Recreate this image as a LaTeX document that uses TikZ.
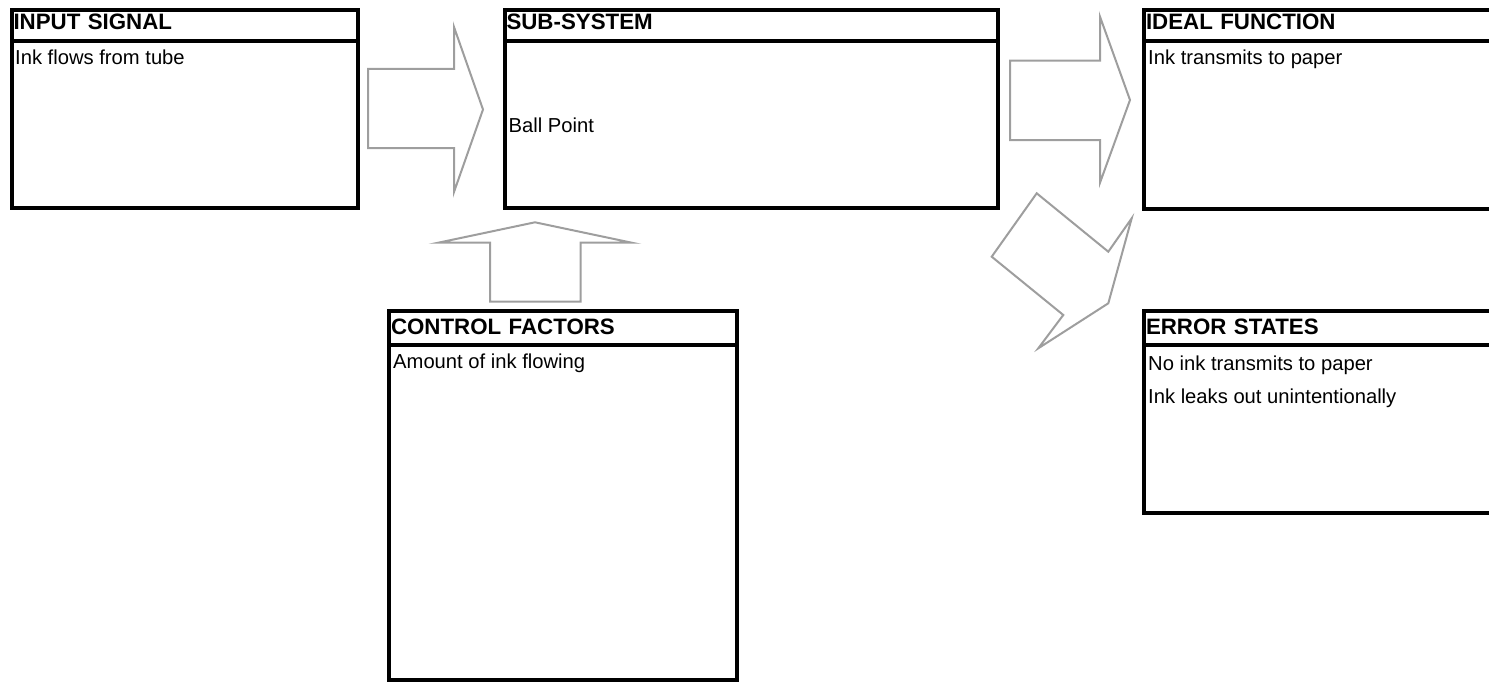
\documentclass[tikz,border=0pt]{standalone}
\usepackage{fontspec}
\setmainfont{Liberation Sans}
\usetikzlibrary{positioning}

\begin{document}
\begin{tikzpicture}[
  x=1pt, y=-1pt,
  head/.style={draw=black, line width=4pt, outer sep=0pt, inner xsep=2pt, inner ysep=0pt, anchor=north west, align=left, font=\fontsize{22.3}{27}\selectfont\bfseries, text height=20pt, text depth=11.5pt, minimum height=31.5pt},
  lowhead/.style={head, minimum height=33.5pt, text height=23pt, text depth=10.5pt},
  body/.style={draw=black, line width=4pt, outer sep=0pt, inner sep=0pt},
  txt/.style={anchor=base west, inner sep=0pt, font=\fontsize{20.2}{24}\selectfont},
  flow/.style={draw=black!38, line width=2pt, line join=miter}
]
  \useasboundingbox (0,0) rectangle (1489,685);
  \clip (0,0) rectangle (1489,685);

  % Input signal
  \node[head, text width=342.5pt] (inhead) at (11.5,10) {INPUT SIGNAL};
  \node[body, minimum width=346.5pt, minimum height=166.5pt, below=0pt of inhead] (inbody) {};
  \node[txt] (intxt) at ([xshift=3.5pt, yshift=-23pt]inbody.north west) {Ink flows from tube};

  % Sub-system
  \node[head, text width=489pt] (subhead) at (504.5,10) {SUB-SYSTEM};
  \node[body, minimum width=493pt, minimum height=166.5pt, below=0pt of subhead] (subbody) {};
  \node[txt] (subtxt) at ([xshift=4pt, yshift=-8pt]subbody.west) {Ball Point};

  % Ideal function (runs off the right edge)
  \node[head, text width=352pt] (idealhead) at (1144,10) {IDEAL FUNCTION};
  \node[body, minimum width=356pt, minimum height=167pt, below=0pt of idealhead] (idealbody) {};
  \node[txt] (idealtxt) at ([xshift=4pt, yshift=-23pt]idealbody.north west) {Ink transmits to paper};

  % Error states
  \node[lowhead, text width=352pt] (errhead) at (1144,311) {ERROR STATES};
  \node[body, minimum width=356pt, minimum height=168pt, below=0pt of errhead] (errbody) {};
  \node[txt] (errtxt1) at ([xshift=4pt, yshift=-25.5pt]errbody.north west) {No ink transmits to paper};
  \node[txt] (errtxt2) at ([yshift=-33.3pt]errtxt1.base west) {Ink leaks out unintentionally};

  % Control factors
  \node[lowhead, text width=344pt] (ctrlhead) at (389,311) {CONTROL FACTORS};
  \node[body, minimum width=348pt, minimum height=335.5pt, below=0pt of ctrlhead] (ctrlbody) {};
  \node[txt] (ctrltxt) at ([xshift=4pt, yshift=-24pt]ctrlbody.north west) {Amount of ink flowing};

  % block arrows
  \draw[flow] (368,69) -- (454,69) -- (454,27) -- (483,109.5) -- (454,192) -- (454,148) -- (368,148) -- cycle;
  \draw[flow] (1010,60.7) -- (1100,60.7) -- (1100,16.7) -- (1130,100) -- (1100,182.7) -- (1100,140) -- (1010,140) -- cycle;
  \draw[flow] (1036.7,193.3) -- (1108.3,251.7) -- (1131.7,218.3) -- (1108.3,303.3) -- (1038.3,348.3) -- (1063.3,315) -- (991.7,256.7) -- cycle;
  \draw[flow] (490,301.7) -- (490,242.7) -- (438.3,242.7) -- (535,222.3) -- (631.7,242.7) -- (580.7,242.7) -- (580.7,301.7) -- cycle;

\end{tikzpicture}
\end{document}
